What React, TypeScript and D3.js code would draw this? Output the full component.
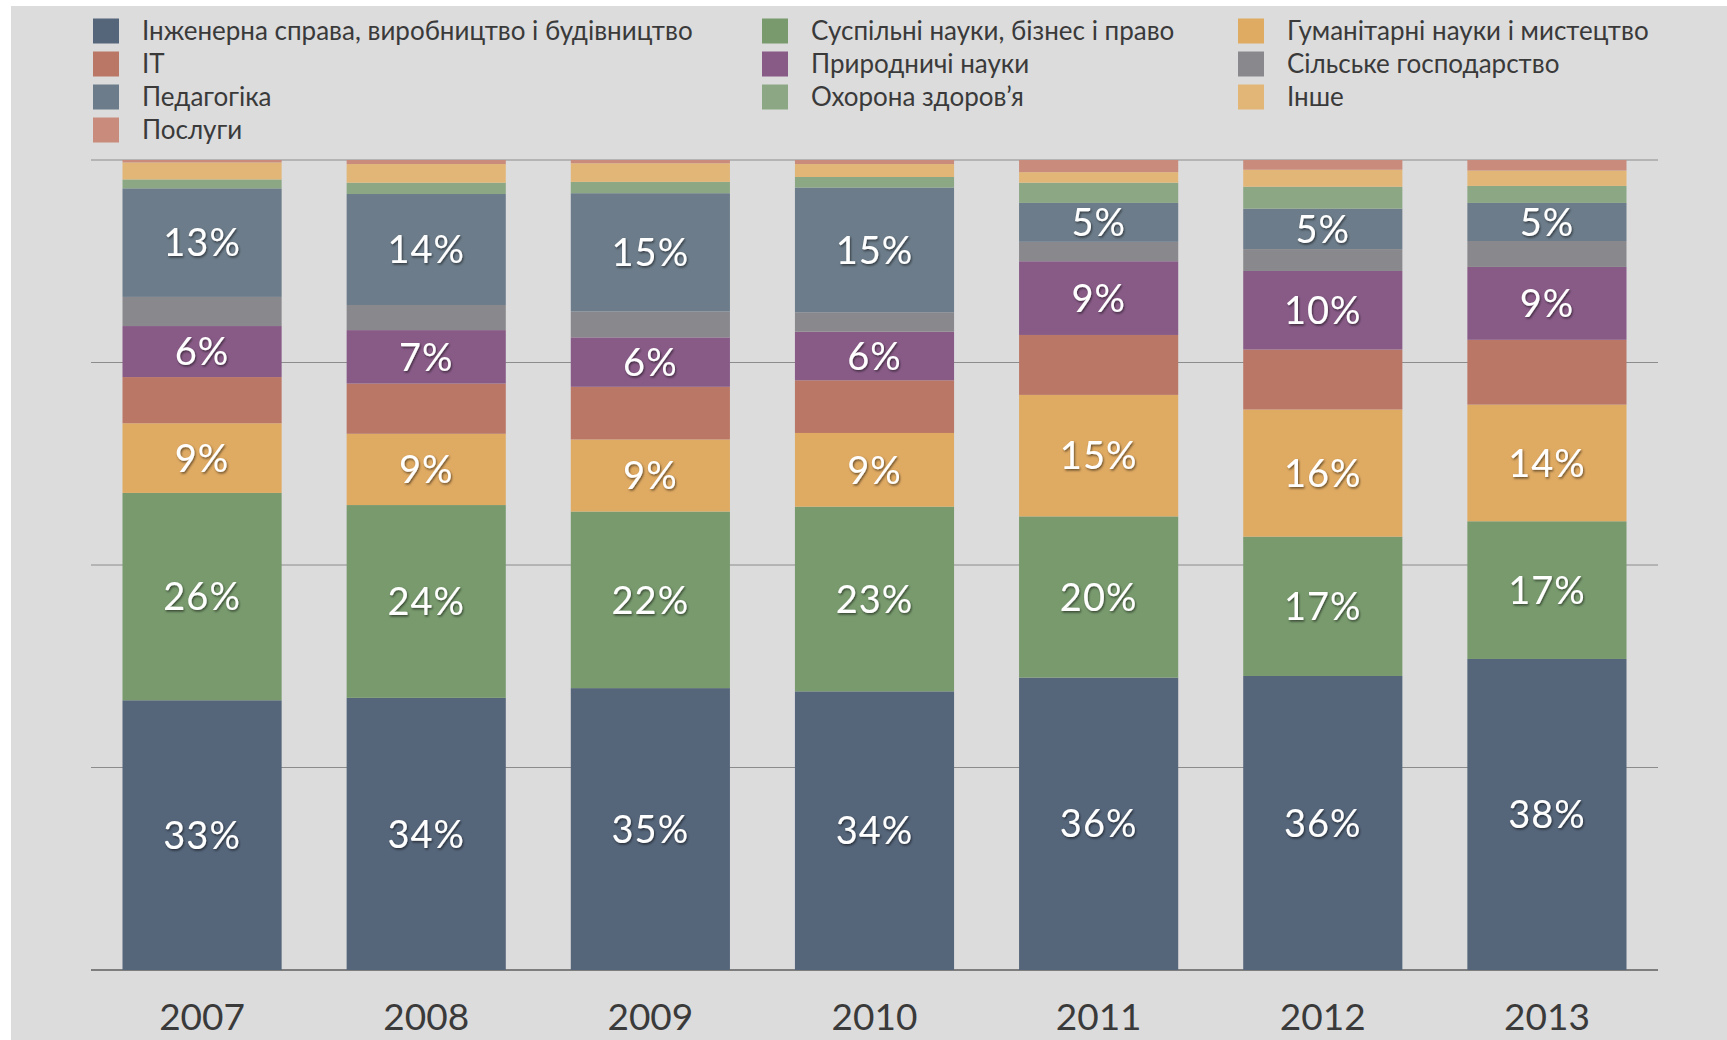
import React from 'react'
import * as d3 from 'd3'

const width = 1727
const height = 1040

const years = ['2007', '2008', '2009', '2010', '2011', '2012', '2013']

// частки спеціальностей, % (знизу вгору)
const engineering = [33.3, 33.6, 34.8, 34.4, 36.1, 36.3, 38.4]
const social = [25.6, 23.8, 21.8, 22.8, 19.9, 17.2, 17.0]
const humanities = [8.6, 8.8, 8.9, 9.1, 15.0, 15.7, 14.4]
const it = [5.7, 6.2, 6.5, 6.5, 7.4, 7.4, 8.0]
const natural = [6.3, 6.6, 6.1, 6.0, 9.1, 9.7, 9.0]
const agriculture = [3.6, 3.1, 3.2, 2.4, 2.4, 2.7, 3.2]
const pedagogy = [13.4, 13.7, 14.6, 15.4, 4.8, 5.0, 4.7]
const health = [1.1, 1.4, 1.4, 1.3, 2.5, 2.7, 2.1]
const other = [2.1, 2.3, 2.3, 1.6, 1.3, 2.1, 1.9]
const services = [0.3, 0.5, 0.4, 0.5, 1.5, 1.2, 1.3]

const seriesNames = [
  'Інженерна справа, виробництво і будівництво',
  'Суспільні науки, бізнес і право',
  'Гуманітарні науки і мистецтво',
  'IT',
  'Природничі науки',
  'Сільське господарство',
  'Педагогіка',
  'Охорона здоров’я',
  'Інше',
  'Послуги',
]
const seriesValues = [engineering, social, humanities, it, natural, agriculture, pedagogy, health, other, services]
const seriesColors = [
  '#55657a', '#789a6d', '#dfaa62', '#bb7765', '#885b87',
  '#89898d', '#6c7c8a', '#8ba784', '#e2b677', '#c98b7b',
]
// які шари підписані
const labelled = [true, true, true, false, true, false, true, false, false, false]

const gridTicks = [0, 25, 50, 75, 100]

const font = "Lato, 'Open Sans', sans-serif"

function App() {
  const keys = seriesNames.map((_, i) => 'k' + i)
  const table = years.map((y, j) => {
    const row: any = { year: y }
    keys.forEach((k, i) => { row[k] = seriesValues[i][j] })
    return row
  })
  const stacked = d3.stack().keys(keys)(table)

  const x = d3.scaleBand().domain(years).range([90, 1659]).paddingInner(0.29).paddingOuter(0.145)
  const y = d3.scaleLinear().domain([0, 100]).range([970, 160])

  return (
    <div style={{ position: 'fixed', left: 0, top: 0 }}>
      <svg width={width} height={height} style={{ display: 'block' }}>
        <defs>
          <filter id="shadow" x="-20%" y="-20%" width="140%" height="140%">
            <feDropShadow dx="1" dy="1.5" stdDeviation="1.2" floodColor="#000" floodOpacity="0.55" />
          </filter>
        </defs>
        <rect width={width} height={height} fill="#ffffff" />
        <rect x={11} y={6} width={width - 11} height={height - 6} fill="#dcdcdd" />

        {/* legend */}
        {seriesNames.map((name, i) => {
          const col = i % 3
          const row = Math.floor(i / 3)
          const lx = [93, 762, 1238][col]
          const ly = 31 + row * 33
          return (
            <g key={name}>
              <rect x={lx} y={ly - 12.5} width={26} height={25} fill={seriesColors[i]} />
              <text x={lx + 49} y={ly} dy="0.35em" fontFamily={font} fontSize={26} fill="#3a3a3a">
                {name}
              </text>
            </g>
          )
        })}

        {/* grid */}
        {gridTicks.map(t => (
          <line key={t} x1={91} x2={1658} y1={y(t)} y2={y(t)}
            stroke={t === 0 ? '#7e7e7e' : '#8c8c8c'} strokeWidth={t === 0 ? 2 : 1.2} />
        ))}

        {/* bars */}
        {stacked.map((layer, i) => (
          <g key={layer.key} fill={seriesColors[i]}>
            {layer.map((d: any) => (
              <rect key={d.data.year}
                x={x(d.data.year)}
                y={y(d[1])}
                width={x.bandwidth()}
                height={y(d[0]) - y(d[1])} />
            ))}
          </g>
        ))}

        {/* value labels */}
        {stacked.map((layer, i) => labelled[i] && (
          <g key={'l' + layer.key} filter="url(#shadow)">
            {layer.map((d: any) => (
              <text key={d.data.year}
                x={(x(d.data.year) as number) + x.bandwidth() / 2}
                y={y((d[0] + d[1]) / 2)}
                dy="0.36em"
                textAnchor="middle"
                fontFamily={font}
                fontSize={38}
                letterSpacing={1}
                fill="#ffffff">
                {Math.round(d[1] - d[0]) + '%'}
              </text>
            ))}
          </g>
        ))}

        {/* year labels */}
        {years.map(yr => (
          <text key={yr}
            x={(x(yr) as number) + x.bandwidth() / 2}
            y={1030}
            textAnchor="middle"
            fontFamily={font}
            fontSize={37}
            fill="#3a3a3a">
            {yr}
          </text>
        ))}
      </svg>
    </div>
  )
}

export default App
